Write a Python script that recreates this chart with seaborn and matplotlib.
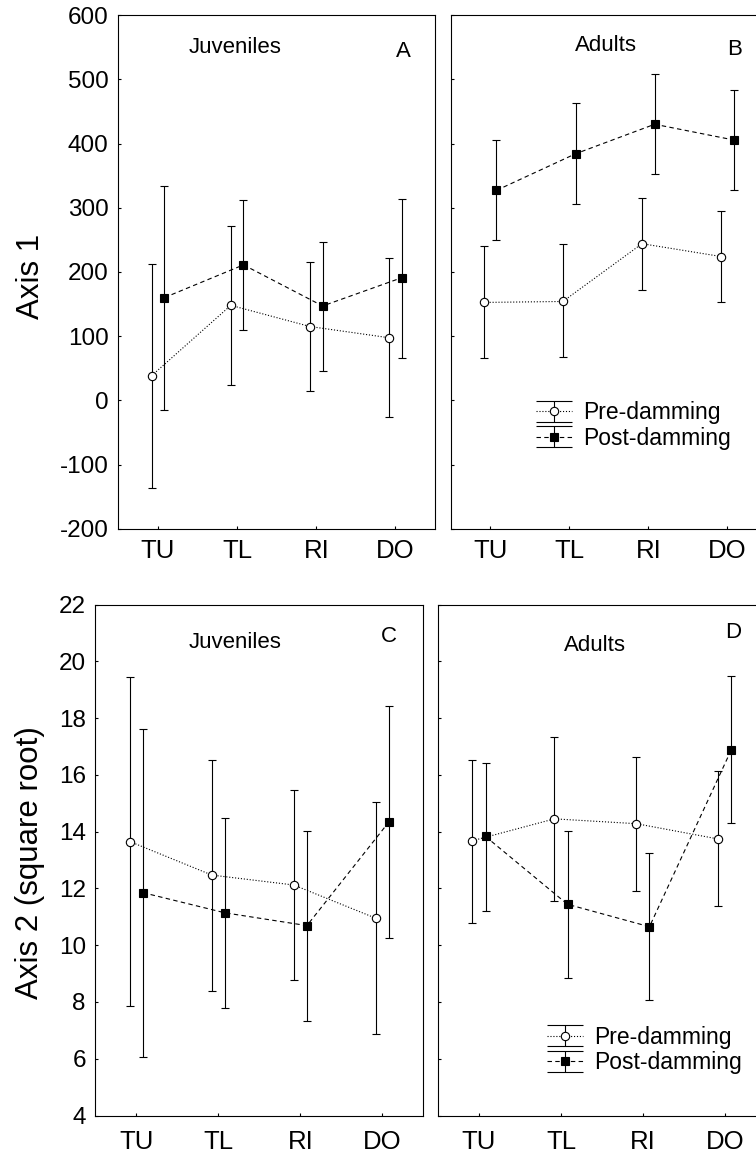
import numpy as np
import matplotlib
matplotlib.use('Agg')
import matplotlib.pyplot as plt
import seaborn as sns
from matplotlib.lines import Line2D
from matplotlib.collections import LineCollection
from matplotlib.container import ErrorbarContainer
from matplotlib.legend_handler import HandlerErrorbar

# sites along the river
sites = ['TU', 'TL', 'RI', 'DO']

# A: juveniles, axis 1
a_pre_mean = [38.5, 148, 115, 97.5]
a_pre_low = [-137, 24, 14, -26]
a_pre_high = [213, 271, 216, 221]
a_post_mean = [160, 211, 147, 191]
a_post_low = [-15, 110, 46, 66]
a_post_high = [334, 312, 247, 314]

# B: adults, axis 1
b_pre_mean = [152.5, 154, 244, 224]
b_pre_low = [66, 67, 172, 152.5]
b_pre_high = [240.5, 243, 315, 295]
b_post_mean = [327, 384, 430, 405.5]
b_post_low = [249, 306, 352, 327]
b_post_high = [406, 463, 508.5, 483]

# C: juveniles, axis 2 (square root)
c_pre_mean = [13.65, 12.47, 12.12, 10.95]
c_pre_low = [7.87, 8.37, 8.79, 6.87]
c_pre_high = [19.43, 16.54, 15.45, 15.05]
c_post_mean = [11.85, 11.14, 10.69, 14.34]
c_post_low = [6.07, 7.8, 7.34, 10.24]
c_post_high = [17.63, 14.47, 14.01, 18.42]

# D: adults, axis 2 (square root)
d_pre_mean = [13.68, 14.45, 14.28, 13.74]
d_pre_low = [10.77, 11.55, 11.9, 11.39]
d_pre_high = [16.54, 17.33, 16.63, 16.12]
d_post_mean = [13.83, 11.44, 10.65, 16.89]
d_post_low = [11.22, 8.85, 8.08, 14.29]
d_post_high = [16.4, 14.01, 13.25, 19.47]

axis1_ticks = np.arange(-200, 601, 100)
axis2_ticks = np.arange(4, 23, 2)

sns.set_style('ticks')
plt.rcParams['font.family'] = ['Liberation Sans', 'DejaVu Sans']
plt.rcParams['axes.unicode_minus'] = False
plt.rcParams['axes.edgecolor'] = 'black'
plt.rcParams['text.color'] = 'black'
plt.rcParams['xtick.color'] = 'black'
plt.rcParams['ytick.color'] = 'black'
plt.rcParams['axes.linewidth'] = 0.8

DODGE = 0.08
LW = 0.8


def draw_series(ax, mean, low, high, shift, marker, face, ls, ms):
    x = np.arange(len(sites)) + shift
    mean = np.asarray(mean, dtype=float)
    yerr = [mean - np.asarray(low), np.asarray(high) - mean]
    ax.errorbar(x, mean, yerr=yerr, fmt='none', ecolor='k', elinewidth=LW,
                capsize=2.6, capthick=LW, zorder=2)
    sns.lineplot(x=x, y=mean, ax=ax, color='k', linestyle=ls, linewidth=LW,
                 marker=marker, markersize=ms, markerfacecolor=face,
                 markeredgecolor='k', markeredgewidth=LW, errorbar=None,
                 legend=False, zorder=3, sort=False)


def draw_panel(ax, pre, post, ticks, group, group_xy, letter, letter_xy,
               ylabels, xpad):
    draw_series(ax, *pre, -DODGE, 'o', 'white', ':', 6)
    draw_series(ax, *post, DODGE, 's', 'black', (0, (4, 3)), 5.5)
    ax.set_xlim(-0.5, len(sites) - 0.5)
    ax.set_ylim(ticks[0], ticks[-1])
    ax.set_xticks(np.arange(len(sites)))
    ax.set_xticklabels(sites)
    ax.set_yticks(ticks)
    if not ylabels:
        ax.set_yticklabels([])
    ax.set_xlabel('')
    ax.set_ylabel('')
    ax.tick_params(axis='both', direction='in', length=2.5, width=LW,
                   top=False, right=False)
    ax.tick_params(axis='x', labelsize=18.5, pad=xpad)
    ax.tick_params(axis='y', labelsize=17.5, pad=7)
    ax.text(*group_xy, group, transform=ax.transAxes, fontsize=16,
            ha='center', va='center')
    ax.text(*letter_xy, letter, transform=ax.transAxes, fontsize=16,
            ha='center', va='center')


def add_legend(ax, anchor):
    handles = []
    for label, marker, face, ls, ms in [('Pre-damming', 'o', 'white', ':', 6),
                                        ('Post-damming', 's', 'black', (0, (4, 3)), 5.5)]:
        line = Line2D([], [], color='k', linestyle=ls, linewidth=LW, marker=marker,
                      markersize=ms, markerfacecolor=face, markeredgecolor='k',
                      markeredgewidth=LW)
        cap = Line2D([], [], color='k', marker='_', markersize=26,
                     markeredgewidth=LW, linestyle='none')
        bar = LineCollection([], colors='k', linewidths=LW)
        handles.append(ErrorbarContainer((line, (cap,), (bar,)),
                                         has_xerr=False, has_yerr=True, label=label))
    ax.legend(handles=handles, labels=['Pre-damming', 'Post-damming'],
              loc='center left', bbox_to_anchor=anchor, frameon=False,
              fontsize=16.5, handlelength=1.57, handletextpad=0.48,
              labelspacing=0.12, borderpad=0, borderaxespad=0,
              handler_map={ErrorbarContainer: HandlerErrorbar(yerr_size=0.46)})


fig = plt.figure(figsize=(7.56, 11.53), dpi=100)
ax_a = fig.add_axes([0.1567, 0.5414, 0.4187, 0.4455])
ax_b = fig.add_axes([0.5959, 0.5414, 0.4187, 0.4455])
ax_c = fig.add_axes([0.1263, 0.0325, 0.4336, 0.4432])
ax_d = fig.add_axes([0.5794, 0.0325, 0.4336, 0.4432])

draw_panel(ax_a, (a_pre_mean, a_pre_low, a_pre_high),
           (a_post_mean, a_post_low, a_post_high), axis1_ticks,
           'Juveniles', (0.369, 0.937), 'A', (0.899, 0.93), True, 7.5)
draw_panel(ax_b, (b_pre_mean, b_pre_low, b_pre_high),
           (b_post_mean, b_post_low, b_post_high), axis1_ticks,
           'Adults', (0.49, 0.941), 'B', (0.897, 0.933), False, 7.5)
draw_panel(ax_c, (c_pre_mean, c_pre_low, c_pre_high),
           (c_post_mean, c_post_low, c_post_high), axis2_ticks,
           'Juveniles', (0.426, 0.926), 'C', (0.896, 0.938), True, 10.5)
draw_panel(ax_d, (d_pre_mean, d_pre_low, d_pre_high),
           (d_post_mean, d_post_low, d_post_high), axis2_ticks,
           'Adults', (0.479, 0.92), 'D', (0.9, 0.945), False, 10.5)

add_legend(ax_b, (0.27, 0.201))
add_legend(ax_d, (0.332, 0.128))

fig.text(31 / 756, 1 - 276 / 1153,
         'Axis 1', rotation=90, fontsize=22.5, ha='center', va='center')
fig.text(30 / 756, ax_c.get_position().y0 + ax_c.get_position().height * 0.496,
         'Axis 2 (square root)', rotation=90, fontsize=22.5, ha='center', va='center')

fig.savefig('out.png', dpi=100)
